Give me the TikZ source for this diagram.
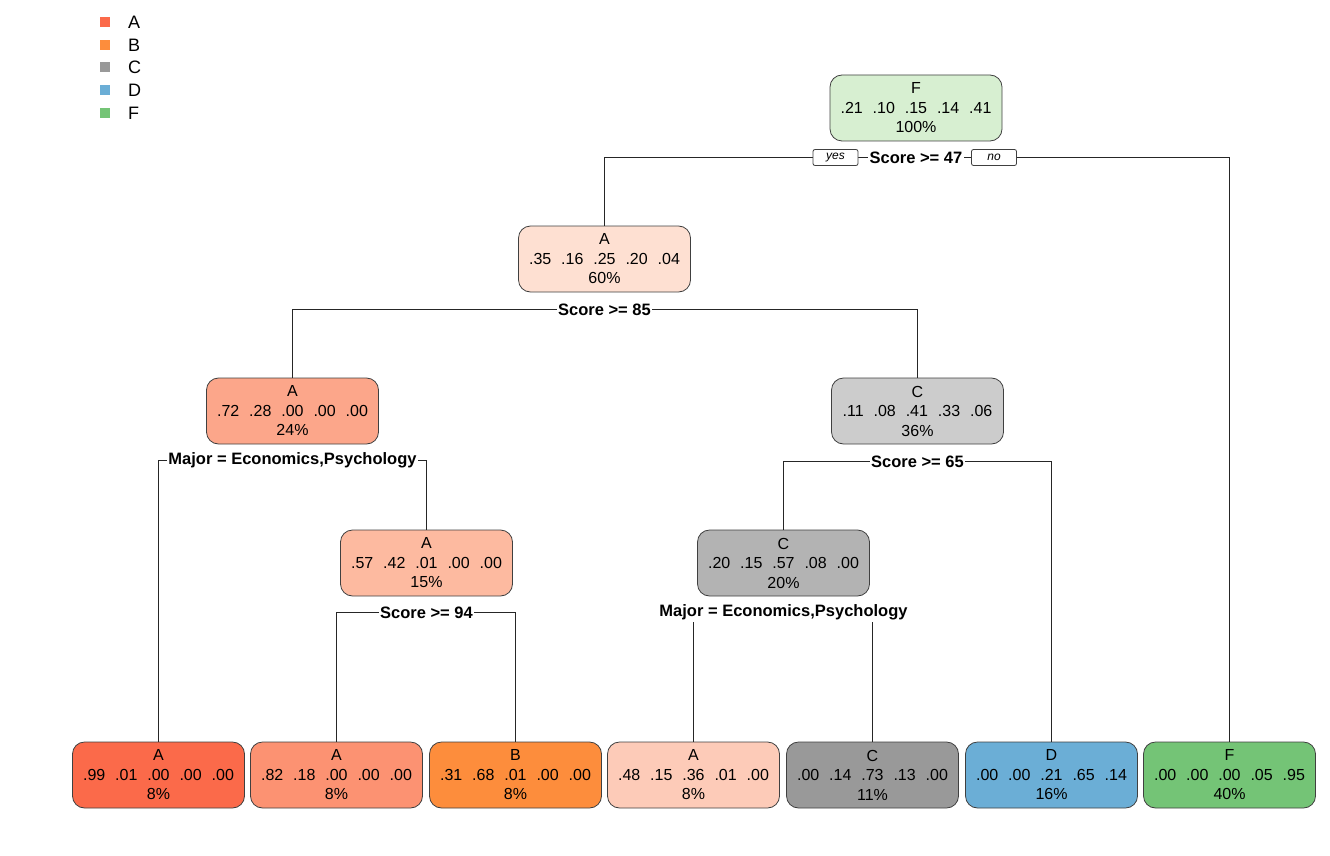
\documentclass[tikz,border=0pt]{standalone}
\usepackage{fontspec}
\setmainfont{Liberation Sans}
\usepackage{tikz}
\usetikzlibrary{positioning, calc}
\definecolor{keyA}{HTML}{FB6A4A}
\definecolor{keyB}{HTML}{FD8D3C}
\definecolor{keyC}{HTML}{999999}
\definecolor{keyD}{HTML}{6BAED6}
\definecolor{keyF}{HTML}{74C476}
\definecolor{shadeA1}{HTML}{FEE0D2}
\definecolor{shadeA2}{HTML}{FCA68A}
\definecolor{shadeA3}{HTML}{FDBAA0}
\definecolor{shadeA4}{HTML}{FC9272}
\definecolor{shadeA5}{HTML}{FDCBB8}
\definecolor{shadeC1}{HTML}{CCCCCC}
\definecolor{shadeC2}{HTML}{B3B3B3}
\definecolor{shadeF1}{HTML}{D7EFD1}
\newcommand{\probrow}[5]{#1\hspace{0.62em}#2\hspace{0.62em}#3\hspace{0.62em}#4\hspace{0.62em}#5}

\begin{document}
\begin{tikzpicture}[x=1pt, y=-1pt,
    box/.style={rectangle, draw=black!75, line width=0.8pt, rounded corners=12pt,
                minimum width=172pt, minimum height=66pt, inner sep=0pt, align=center,
                font=\fontsize{16}{19.5}\selectfont},
    split/.style={fill=white, inner sep=1.5pt, font=\bfseries\fontsize{16.5}{18}\selectfont},
    yesno/.style={draw=black!75, line width=0.8pt, fill=white, rounded corners=2pt, minimum width=45pt,
                  minimum height=16pt, inner sep=0pt, font=\itshape\fontsize{12}{13}\selectfont},
    edge/.style={draw=black!85, line width=1pt},
    key/.style={minimum size=10pt, inner sep=0pt},
    keytext/.style={anchor=west, inner sep=0pt, font=\fontsize{18}{19}\selectfont}
]
    \useasboundingbox (0,0) rectangle (1330,856);

    % legend
    \node[key, fill=keyA] (kA) at (105,22) {};
    \node[key, fill=keyB] (kB) at (105,45) {};
    \node[key, fill=keyC] (kC) at (105,67.5) {};
    \node[key, fill=keyD] (kD) at (105,90) {};
    \node[key, fill=keyF] (kF) at (105,113) {};
    \node[keytext] (tA) at (128,22) {A};
    \node[keytext] (tB) at (128,45) {B};
    \node[keytext] (tC) at (128,67.5) {C};
    \node[keytext] (tD) at (128,90) {D};
    \node[keytext] (tF) at (128,113) {F};

    % inner nodes
    \node[box, fill=shadeF1] (root) at (916,108) {F\\\probrow{.21}{.10}{.15}{.14}{.41}\\100\%};
    \node[box, fill=shadeA1] (hi47) at (604.5,259) {A\\\probrow{.35}{.16}{.25}{.20}{.04}\\60\%};
    \node[box, fill=shadeA2] (hi85) at (292.5,411) {A\\\probrow{.72}{.28}{.00}{.00}{.00}\\24\%};
    \node[box, fill=shadeC1] (lo85) at (917.5,411) {C\\\probrow{.11}{.08}{.41}{.33}{.06}\\36\%};
    \node[box, fill=shadeA3] (other) at (426.5,563) {A\\\probrow{.57}{.42}{.01}{.00}{.00}\\15\%};
    \node[box, fill=shadeC2] (hi65) at (783.5,563) {C\\\probrow{.20}{.15}{.57}{.08}{.00}\\20\%};

    % leaves
    \node[box, fill=keyA] (leafA1) at (158.5,775) {A\\\probrow{.99}{.01}{.00}{.00}{.00}\\8\%};
    \node[box, fill=shadeA4] (leafA2) at (336.5,775) {A\\\probrow{.82}{.18}{.00}{.00}{.00}\\8\%};
    \node[box, fill=keyB] (leafB) at (515.5,775) {B\\\probrow{.31}{.68}{.01}{.00}{.00}\\8\%};
    \node[box, fill=shadeA5] (leafA3) at (693.5,775) {A\\\probrow{.48}{.15}{.36}{.01}{.00}\\8\%};
    \node[box, fill=keyC] (leafC) at (872.5,775) {C\\\probrow{.00}{.14}{.73}{.13}{.00}\\11\%};
    \node[box, fill=keyD] (leafD) at (1051.5,775) {D\\\probrow{.00}{.00}{.21}{.65}{.14}\\16\%};
    \node[box, fill=keyF] (leafF) at (1229.5,775) {F\\\probrow{.00}{.00}{.00}{.05}{.95}\\40\%};

    % splits
    \coordinate (s1) at (916,157.5);
    \coordinate (s2) at (604.5,309.5);
    \coordinate (s3) at (292.5,460.5);
    \coordinate (s4) at (917.5,461.5);
    \coordinate (s5) at (426.5,612.5);
    \coordinate (s6) at (783.5,612.5);

    \draw[edge] (hi47.north) |- (s1) -| (leafF.north);
    \draw[edge] (hi85.north) |- (s2) -| (lo85.north);
    \draw[edge] (leafA1.north) |- (s3) -| (other.north);
    \draw[edge] (hi65.north) |- (s4) -| (leafD.north);
    \draw[edge] (leafA2.north) |- (s5) -| (leafB.north);
    \draw[edge] (leafA3.north) |- (s6) -| (leafC.north);

    \node[split] (l1) at (s1) {Score >= 47};
    \node[split] (l2) at (s2) {Score >= 85};
    \node[split] (l3) at (s3) {Major = Economics,Psychology};
    \node[split] (l4) at (s4) {Score >= 65};
    \node[split] (l5) at (s5) {Score >= 94};
    \node[split] (l6) at (s6) {Major = Economics,Psychology};

    \node[yesno] (yes) at (835.5,157.5) {yes};
    \node[yesno] (no) at (994,157.5) {no};
\end{tikzpicture}
\end{document}
